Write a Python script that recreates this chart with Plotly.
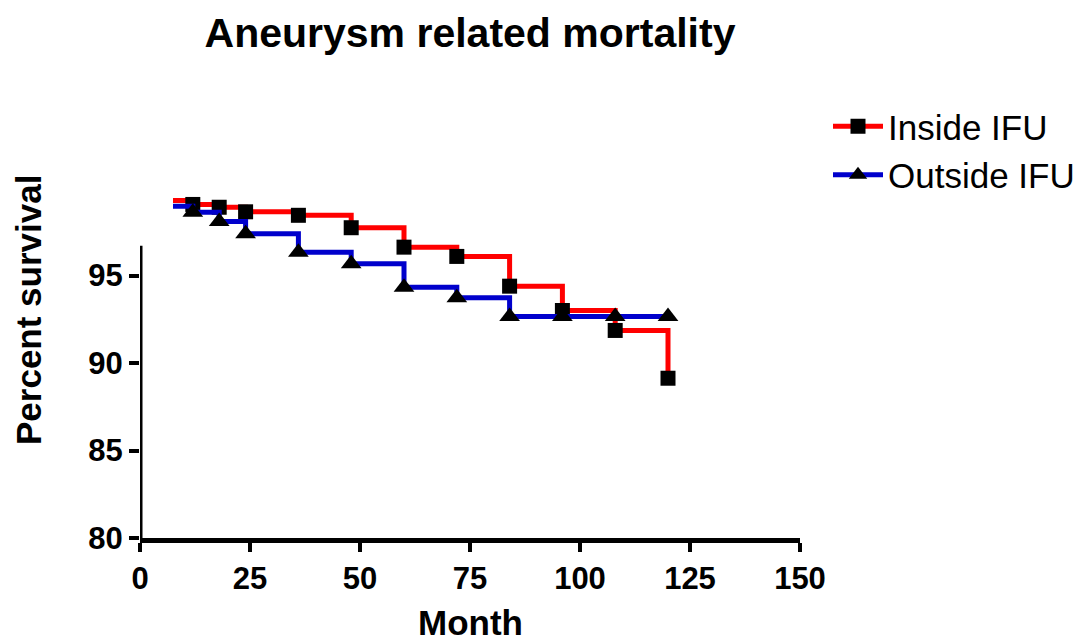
import plotly.graph_objects as go

# Kaplan-Meier style survival estimates (percent) by month
months = [7.5, 12, 18, 24, 36, 48, 60, 72, 84, 96, 108, 120]
inside_ifu = [99.29, 99.06, 98.90, 98.64, 98.44, 97.73, 96.62, 96.09, 94.39, 93.00, 91.86, 89.13]
outside_ifu = [98.96, 98.62, 98.09, 97.38, 96.33, 95.67, 94.33, 93.73, 92.66, 92.66, 92.66, 92.66]

x_ticks = [0, 25, 50, 75, 100, 125, 150]
y_ticks = [80, 85, 90, 95]
y_axis_top = 96.7

FONT = "Liberation Sans"
RED = "#FF0000"
BLUE = "#0000CC"

W, H = 1084, 643
L, R, T, B = 140, 284, 188, 105
PW, PH = W - L - R, H - T - B


def px_x(px):
    """Horizontal pixel position -> paper coordinate."""
    return (px - L) / PW


def px_y(py):
    """Vertical pixel position -> paper coordinate."""
    return (H - B - py) / PH


fig = go.Figure()

series = [
    ("Inside IFU", inside_ifu, RED, "square", 15),
    ("Outside IFU", outside_ifu, BLUE, "triangle-up", 18),
]

for name, vals, color, symbol, size in series:
    # leading segment from the first observation to the first event (no marker)
    fig.add_trace(go.Scatter(
        x=months[:2], y=vals[:2], mode="lines", line_shape="hv",
        line=dict(color=color, width=5), showlegend=False, hoverinfo="skip",
    ))
    fig.add_trace(go.Scatter(
        x=months[1:], y=vals[1:], mode="lines+markers", name=name,
        line_shape="hv", line=dict(color=color, width=5),
        marker=dict(symbol=symbol, size=size, color="black"),
    ))

# truncated left axis line
fig.add_shape(type="line", xref="x", yref="y", x0=0, x1=0, y0=80, y1=y_axis_top,
              line=dict(color="black", width=5), layer="above")

fig.update_layout(
    width=W, height=H,
    margin=dict(l=L, r=R, t=T, b=B, autoexpand=False),
    paper_bgcolor="white", plot_bgcolor="white",
    font=dict(family=FONT, color="black"),
    title=dict(text="Aneurysm related mortality", x=470 / W, xanchor="center",
               y=1 - 33 / H, yanchor="middle",
               font=dict(family=FONT, size=41, weight="bold", color="black")),
    legend=dict(x=px_x(828), y=px_y(97), xanchor="left", yanchor="top",
                font=dict(family=FONT, size=35, color="black"),
                itemwidth=50, bgcolor="rgba(0,0,0,0)", tracegroupgap=0),
    showlegend=True,
)

fig.update_xaxes(
    range=[0, 150], tickvals=x_ticks, ticktext=[str(v) for v in x_ticks],
    showgrid=False, zeroline=False, showline=True, linecolor="black", linewidth=5,
    ticks="outside", ticklen=9, tickwidth=4, tickcolor="black", automargin=False,
    tickfont=dict(family=FONT, size=31, weight="bold", color="black"),
)
fig.update_yaxes(
    range=[80, 100], tickvals=y_ticks, ticktext=[str(v) for v in y_ticks],
    showgrid=False, zeroline=False, showline=False, automargin=False,
    ticks="outside", ticklen=10, tickwidth=4, tickcolor="black",
    tickfont=dict(family=FONT, size=31, weight="bold", color="black"),
)

axis_title_font = dict(family=FONT, size=35, weight="bold", color="black")
fig.add_annotation(text="Percent survival", textangle=-90, xref="paper", yref="paper",
                   x=px_x(28), y=px_y(310), xanchor="center", yanchor="middle",
                   showarrow=False, font=axis_title_font)
fig.add_annotation(text="Month", xref="paper", yref="paper",
                   x=px_x(471), y=px_y(622), xanchor="center", yanchor="middle",
                   showarrow=False, font=axis_title_font)

fig.write_html("out.html")
